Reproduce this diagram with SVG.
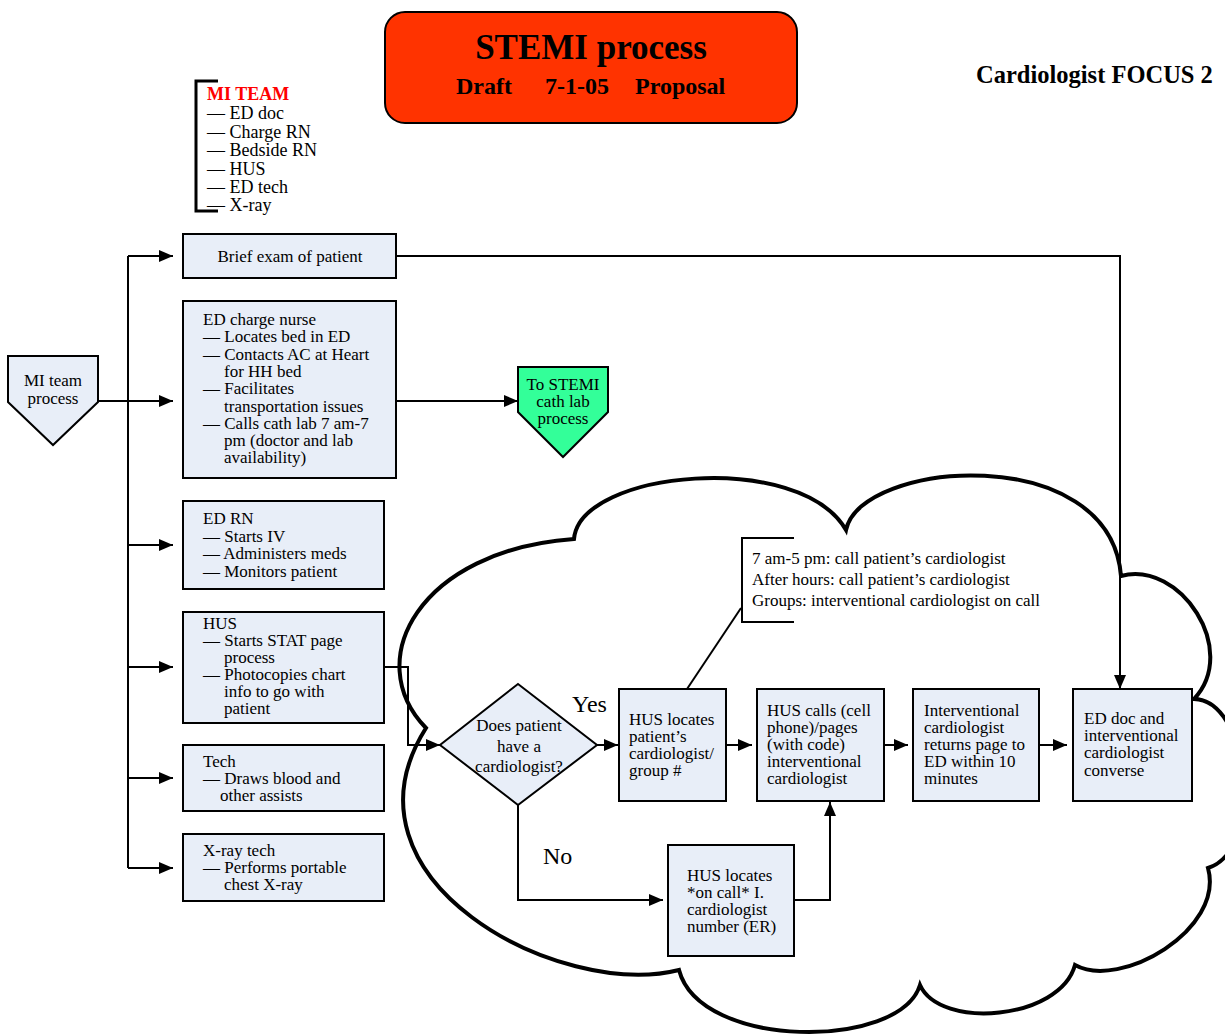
<svg xmlns="http://www.w3.org/2000/svg" width="1225" height="1036" viewBox="0 0 1225 1036">
<style>
.t{font-family:"Liberation Serif","Times New Roman",serif;font-size:17px;fill:#000}
.c{text-anchor:middle}
.b{font-weight:bold}
.box{fill:#E8EEF8;stroke:#000;stroke-width:2}
.ln{fill:none;stroke:#000;stroke-width:2}
.br{fill:none;stroke:#000;stroke-width:3}
</style>
<defs>
<marker id="ah" viewBox="0 0 14 12" refX="14" refY="6" markerWidth="14" markerHeight="12" markerUnits="userSpaceOnUse" orient="auto"><path d="M0,0 L14,6 L0,12 z" fill="#000"/></marker>
</defs>
<rect width="1225" height="1036" fill="#fff"/>

<g id="cloud">
<path d="M426,728 C360,660 420,550 574,539 C580,470 800,450 846,530 C860,460 1110,440 1121,576 C1180,560 1240,650 1194,699 C1250,700 1265,850 1208,868 C1225,930 1120,990 1075,965 C1060,1020 940,1030 920,985 C900,1050 700,1050 679,970 C560,1000 330,880 426,728 Z" fill="#fff" stroke="#000" stroke-width="4" stroke-linejoin="miter"/>
</g>

<g id="title">
<rect x="385" y="12" width="412" height="111" rx="20" fill="#FF3300" stroke="#000" stroke-width="2"/>
<text class="t c b" x="591" y="59" style="font-size:35px">STEMI process</text>
<text class="t b" y="94" style="font-size:24px"><tspan x="456">Draft</tspan><tspan x="545">7-1-05</tspan><tspan x="635">Proposal</tspan></text>
</g>

<g id="focus">
<text class="t b" x="976" y="83" style="font-size:24.5px">Cardiologist FOCUS 2</text>
</g>

<g id="mi-team">
<path class="br" d="M218,81 H196 V211 H218"/>
<text class="t b" x="207" y="100" style="font-size:18px;fill:#FF0000">MI TEAM</text>
<text class="t" style="font-size:18px"><tspan x="207" y="119">— ED doc</tspan><tspan x="207" y="137.5">— Charge RN</tspan><tspan x="207" y="156">— Bedside RN</tspan><tspan x="207" y="174.5">— HUS</tspan><tspan x="207" y="193">— ED tech</tspan><tspan x="207" y="211">— X-ray</tspan></text>
</g>

<g id="connectors">
<path class="ln" d="M128,256 V868"/>
<path class="ln" d="M98,401 H173" marker-end="url(#ah)"/>
<path class="ln" d="M128,256 H173" marker-end="url(#ah)"/>
<path class="ln" d="M128,545 H173" marker-end="url(#ah)"/>
<path class="ln" d="M128,667 H173" marker-end="url(#ah)"/>
<path class="ln" d="M128,778 H173" marker-end="url(#ah)"/>
<path class="ln" d="M128,868 H173" marker-end="url(#ah)"/>
<path class="ln" d="M396,256 H1120 V689" marker-end="url(#ah)"/>
<path class="ln" d="M396,401 H518" marker-end="url(#ah)"/>
<path class="ln" d="M384,667 H408 V745 H440" marker-end="url(#ah)"/>
<path class="ln" d="M597,745 H618" marker-end="url(#ah)"/>
<path class="ln" d="M727,745 H752" marker-end="url(#ah)"/>
<path class="ln" d="M885,745 H908" marker-end="url(#ah)"/>
<path class="ln" d="M1039,745 H1067" marker-end="url(#ah)"/>
<path class="ln" d="M518,805 V900 H663" marker-end="url(#ah)"/>
<path class="ln" d="M793,900 H830 V802" marker-end="url(#ah)"/>
<path class="ln" d="M687,689 L741,608"/>
</g>

<g id="mi-team-process">
<path class="box" d="M8,356 H98 V402 L53,445 L8,402 Z"/>
<text class="t c" x="53" y="386">MI team</text>
<text class="t c" x="53" y="404">process</text>
</g>

<g id="brief-exam">
<rect class="box" x="183" y="234" width="213" height="44"/>
<text class="t c" x="290" y="262">Brief exam of patient</text>
</g>

<g id="ed-charge-nurse">
<rect class="box" x="183" y="301" width="213" height="177"/>
<text class="t"><tspan x="203" y="325">ED charge nurse</tspan><tspan x="203" y="342.3">— Locates bed in ED</tspan><tspan x="203" y="359.6">— Contacts AC at Heart</tspan><tspan x="224" y="376.9">for HH bed</tspan><tspan x="203" y="394.2">— Facilitates</tspan><tspan x="224" y="411.5">transportation issues</tspan><tspan x="203" y="428.8">— Calls cath lab 7 am-7</tspan><tspan x="224" y="446.1">pm (doctor and lab</tspan><tspan x="224" y="463.4">availability)</tspan></text>
</g>

<g id="to-stemi">
<path d="M518,367 H608 V412 L563,457 L518,412 Z" fill="#33FF99" stroke="#000" stroke-width="2"/>
<text class="t c" x="563" y="390">To STEMI</text>
<text class="t c" x="563" y="407">cath lab</text>
<text class="t c" x="563" y="424">process</text>
</g>

<g id="ed-rn">
<rect class="box" x="183" y="501" width="201" height="88"/>
<text class="t"><tspan x="203" y="524">ED RN</tspan><tspan x="203" y="541.5">— Starts IV</tspan><tspan x="203" y="559">— Administers meds</tspan><tspan x="203" y="576.5">— Monitors patient</tspan></text>
</g>

<g id="hus">
<rect class="box" x="183" y="612" width="201" height="111"/>
<text class="t"><tspan x="203" y="629">HUS</tspan><tspan x="203" y="646">— Starts STAT page</tspan><tspan x="224" y="663">process</tspan><tspan x="203" y="680">— Photocopies chart</tspan><tspan x="224" y="697">info to go with</tspan><tspan x="224" y="714">patient</tspan></text>
</g>

<g id="tech">
<rect class="box" x="183" y="745" width="201" height="66"/>
<text class="t"><tspan x="203" y="767">Tech</tspan><tspan x="203" y="784">— Draws blood and</tspan><tspan x="220" y="801">other assists</tspan></text>
</g>

<g id="xray-tech">
<rect class="box" x="183" y="834" width="201" height="67"/>
<text class="t"><tspan x="203" y="856">X-ray tech</tspan><tspan x="203" y="873">— Performs portable</tspan><tspan x="224" y="890">chest X-ray</tspan></text>
</g>

<g id="decision">
<path class="box" d="M518,684 L597,745 L518,805 L440,745 Z"/>
<text class="t c" x="519" y="731">Does patient</text>
<text class="t c" x="519" y="752">have a</text>
<text class="t c" x="519" y="772">cardiologist?</text>
</g>
<text class="t" x="572" y="712" style="font-size:24px">Yes</text>
<text class="t" x="543" y="864" style="font-size:24px">No</text>

<g id="note">
<path class="ln" d="M794,538 H742 V622 H794"/>
<text class="t"><tspan x="752" y="564">7 am-5 pm: call patient’s cardiologist</tspan><tspan x="752" y="585">After hours: call patient’s cardiologist</tspan><tspan x="752" y="606">Groups: interventional cardiologist on call</tspan></text>
</g>

<g id="hus-locates">
<rect class="box" x="619" y="689" width="107" height="112"/>
<text class="t"><tspan x="629" y="725">HUS locates</tspan><tspan x="629" y="742">patient’s</tspan><tspan x="629" y="759">cardiologist/</tspan><tspan x="629" y="776">group #</tspan></text>
</g>

<g id="hus-calls">
<rect class="box" x="757" y="689" width="127" height="112"/>
<text class="t"><tspan x="767" y="716">HUS calls (cell</tspan><tspan x="767" y="733">phone)/pages</tspan><tspan x="767" y="750">(with code)</tspan><tspan x="767" y="767">interventional</tspan><tspan x="767" y="784">cardiologist</tspan></text>
</g>

<g id="ic-returns">
<rect class="box" x="913" y="689" width="126" height="112"/>
<text class="t"><tspan x="924" y="716">Interventional</tspan><tspan x="924" y="733">cardiologist</tspan><tspan x="924" y="750">returns page to</tspan><tspan x="924" y="767">ED within 10</tspan><tspan x="924" y="784">minutes</tspan></text>
</g>

<g id="converse">
<rect class="box" x="1073" y="689" width="119" height="112"/>
<text class="t"><tspan x="1084" y="724">ED doc and</tspan><tspan x="1084" y="741">interventional</tspan><tspan x="1084" y="758">cardiologist</tspan><tspan x="1084" y="776">converse</tspan></text>
</g>

<g id="hus-on-call">
<rect class="box" x="668" y="845" width="126" height="111"/>
<text class="t"><tspan x="687" y="881">HUS locates</tspan><tspan x="687" y="898">*on call* I.</tspan><tspan x="687" y="915">cardiologist</tspan><tspan x="687" y="932">number (ER)</tspan></text>
</g>
</svg>
